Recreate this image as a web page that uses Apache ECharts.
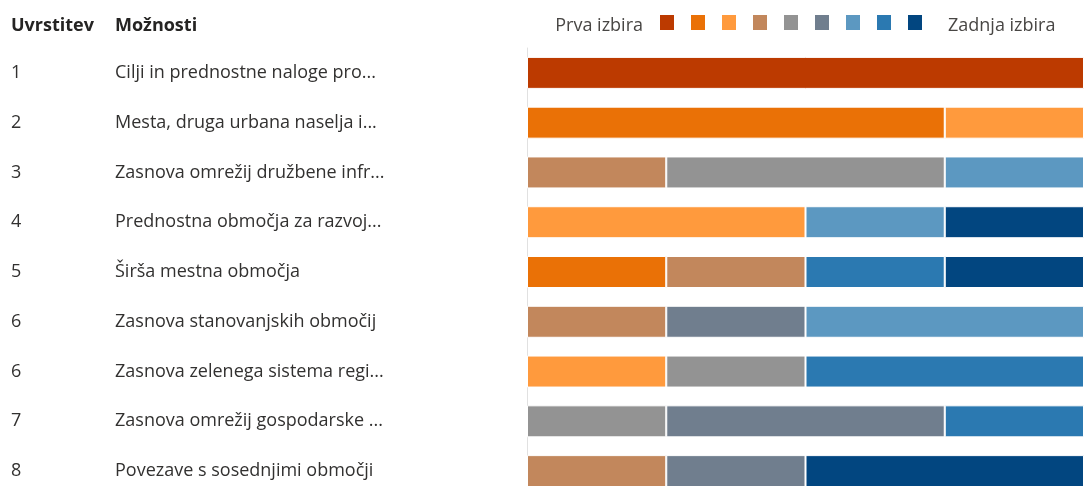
<!DOCTYPE html>
<html><head><meta charset="utf-8">
<script src="https://cdn.jsdelivr.net/npm/echarts@6/dist/echarts.min.js"></script>
<style>html,body{margin:0;padding:0;background:#fff;overflow:hidden}#c{width:1084px;height:496px}</style>
</head><body><div id="c"></div>
<script>
const ranks = ['1','2','3','4','5','6','6','7','8'];
const options = [
  'Cilji in prednostne naloge pro...',
  'Mesta, druga urbana naselja i...',
  'Zasnova omrežij družbene infr...',
  'Prednostna območja za razvoj...',
  'Širša mestna območja',
  'Zasnova stanovanjskih območij',
  'Zasnova zelenega sistema regi...',
  'Zasnova omrežij gospodarske ...',
  'Povezave s sosednjimi območji'
];
const headerRank = 'Uvrstitev';
const headerOptions = 'Možnosti';
const legendFirst = 'Prva izbira';
const legendLast = 'Zadnja izbira';
const choiceNames = ['1. izbira','2. izbira','3. izbira','4. izbira','5. izbira','6. izbira','7. izbira','8. izbira','9. izbira'];
// counts per choice position, one value per option row
const choice1 = [4,0,0,0,0,0,0,0,0];
const choice2 = [0,3,0,0,1,0,0,0,0];
const choice3 = [0,1,0,2,0,0,1,0,0];
const choice4 = [0,0,1,0,1,1,0,0,1];
const choice5 = [0,0,2,0,0,0,1,1,0];
const choice6 = [0,0,0,0,0,1,0,2,1];
const choice7 = [0,0,1,1,0,2,0,0,0];
const choice8 = [0,0,0,0,1,0,2,1,0];
const choice9 = [0,0,0,1,1,0,0,0,2];
const colors = ['#BC3A00','#EA7106','#FF9A3D','#C2875C','#939393','#707E8E','#5C98C1','#2B79B1','#024680'];

const allChoices = [choice1,choice2,choice3,choice4,choice5,choice6,choice7,choice8,choice9];
const FONT = '"Segoe UI","Open Sans","Noto Sans",sans-serif';
const FS = 18;
const cats = options.map((o,i)=>i);
const chart = echarts.init(document.getElementById('c'));
chart.setOption({
  animation:false,
  textStyle:{fontFamily:FONT},
  grid:{left:527,right:0,top:48,bottom:0,containLabel:false},
  xAxis:{type:'value',min:0,max:4,show:false},
  yAxis:{type:'category',inverse:true,data:cats,
    axisLine:{show:true,lineStyle:{color:'#e1e1e1',width:1}},
    axisTick:{show:false},splitLine:{show:false},
    axisLabel:{align:'left',margin:516,
      formatter:(v)=>'{r|'+ranks[v]+'}{n|'+options[v]+'}',
      rich:{r:{width:104,fontSize:FS,color:'#323130',fontFamily:FONT},
            n:{fontSize:FS,color:'#323130',fontFamily:FONT}}}},
  legend:{left:655,top:10,itemWidth:14,itemHeight:15,itemGap:12,
    icon:'rect',formatter:()=>'',selectedMode:false,
    textStyle:{fontSize:1,lineHeight:1,padding:0},
    itemStyle:{borderWidth:0},
    data:choiceNames},
  graphic:[
    {type:'text',left:11,top:17,style:{text:headerRank,fontSize:FS,fontWeight:'bold',fill:'#252423',fontFamily:FONT}},
    {type:'text',left:115,top:17,style:{text:headerOptions,fontSize:FS,fontWeight:'bold',fill:'#252423',fontFamily:FONT}},
    {type:'text',right:1084-643,top:17,style:{text:legendFirst,fontSize:FS,fill:'#484644',fontFamily:FONT}},
    {type:'text',left:948,top:17,style:{text:legendLast,fontSize:FS,fill:'#484644',fontFamily:FONT}}
  ],
  series: allChoices.map((arr,k)=>({
    name:choiceNames[k],type:'bar',stack:'s',barWidth:32,
    itemStyle:{color:colors[k],borderColor:'#fff',borderWidth:1},
    data:arr.map(v=>v===0?'-':v)
  }))
});
</script></body></html>
